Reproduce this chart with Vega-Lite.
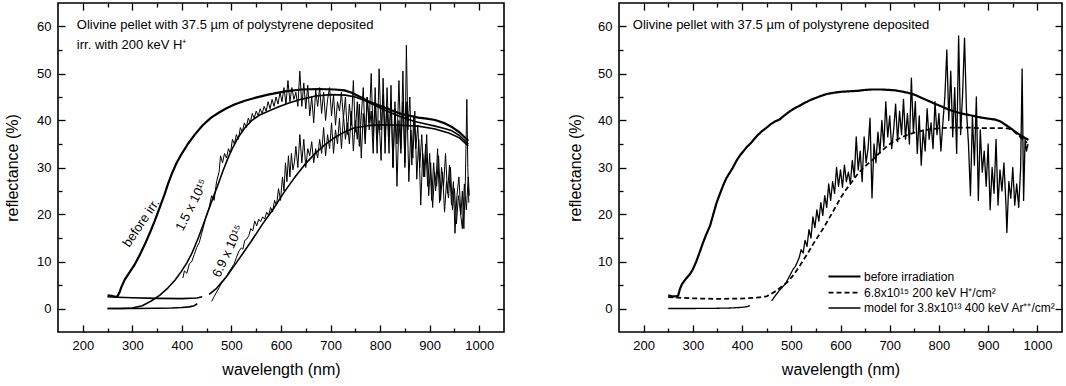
{
  "$schema": "https://vega.github.io/schema/vega-lite/v6.json",
  "background": "white",
  "padding": {"left": 3, "top": 1, "right": 0, "bottom": 0},
  "spacing": 60,
  "resolve": {"scale": {"strokeWidth": "independent", "strokeDash": "independent"}, "legend": {"strokeWidth": "independent", "strokeDash": "independent"}},
  "config": {
    "font": "Liberation Sans",
    "view": {"stroke": "black", "strokeWidth": 1.6},
    "axis": {"domain": false, "grid": false, "format": "d", "labelFont": "Liberation Sans", "labelFontSize": 13, "labelColor": "black", "titleFont": "Liberation Sans", "titleFontSize": 16, "titleFontWeight": "normal", "titleColor": "black", "tickColor": "black", "tickWidth": 1.3}
  },
  "datasets": {
    "left": [
      {"s":"b","g":"b","x":250,"y":2.8},{"s":"b","g":"b","x":258,"y":2.7},{"s":"b","g":"b","x":265,"y":2.5},{"s":"b","g":"b","x":270,"y":2.6},{"s":"b","g":"b","x":274,"y":3.4},{"s":"b","g":"b","x":278,"y":4.6},{"s":"b","g":"b","x":285,"y":6.2},{"s":"b","g":"b","x":295,"y":7.8},{"s":"b","g":"b","x":305,"y":9.4},{"s":"b","g":"b","x":315,"y":11.4},{"s":"b","g":"b","x":325,"y":13.6},{"s":"b","g":"b","x":335,"y":16.0},{"s":"b","g":"b","x":345,"y":18.6},{"s":"b","g":"b","x":355,"y":21.4},{"s":"b","g":"b","x":365,"y":24.3},{"s":"b","g":"b","x":372,"y":26.5},{"s":"b","g":"b","x":379,"y":28.5},{"s":"b","g":"b","x":389,"y":30.9},{"s":"b","g":"b","x":399,"y":32.8},{"s":"b","g":"b","x":412,"y":35.0},{"s":"b","g":"b","x":426,"y":37.0},{"s":"b","g":"b","x":442,"y":39.0},{"s":"b","g":"b","x":459,"y":40.6},{"s":"b","g":"b","x":475,"y":41.7},{"s":"b","g":"b","x":490,"y":42.6},{"s":"b","g":"b","x":506,"y":43.4},{"s":"b","g":"b","x":527,"y":44.2},{"s":"b","g":"b","x":547,"y":44.8},{"s":"b","g":"b","x":574,"y":45.5},{"s":"b","g":"b","x":608,"y":46.2},{"s":"b","g":"b","x":641,"y":46.6},{"s":"b","g":"b","x":675,"y":46.7},{"s":"b","g":"b","x":709,"y":46.6},{"s":"b","g":"b","x":728,"y":46.4},{"s":"b","g":"b","x":743,"y":45.9},{"s":"b","g":"b","x":760,"y":45.0},{"s":"b","g":"b","x":776,"y":44.1},{"s":"b","g":"b","x":793,"y":43.4},{"s":"b","g":"b","x":810,"y":42.7},{"s":"b","g":"b","x":827,"y":42.0},{"s":"b","g":"b","x":843,"y":41.4},{"s":"b","g":"b","x":860,"y":41.0},{"s":"b","g":"b","x":877,"y":40.6},{"s":"b","g":"b","x":894,"y":40.4},{"s":"b","g":"b","x":911,"y":40.1},{"s":"b","g":"b","x":928,"y":39.5},{"s":"b","g":"b","x":945,"y":38.6},{"s":"b","g":"b","x":960,"y":37.5},{"s":"b","g":"b","x":970,"y":36.5},{"s":"b","g":"b","x":978,"y":35.7},

      {"s":"m","g":"m15","x":250,"y":0},{"s":"m","g":"m15","x":280,"y":0.02},{"s":"m","g":"m15","x":300,"y":0.1},{"s":"m","g":"m15","x":320,"y":0.6},{"s":"m","g":"m15","x":338,"y":1.6},{"s":"m","g":"m15","x":355,"y":2.8},{"s":"m","g":"m15","x":372,"y":4.4},{"s":"m","g":"m15","x":386,"y":6.0},{"s":"m","g":"m15","x":399,"y":7.9},{"s":"m","g":"m15","x":410,"y":9.7},{"s":"m","g":"m15","x":419,"y":11.5},{"s":"m","g":"m15","x":426,"y":13.2},{"s":"m","g":"m15","x":433,"y":15.0},{"s":"m","g":"m15","x":443,"y":17.8},{"s":"m","g":"m15","x":453,"y":20.7},{"s":"m","g":"m15","x":463,"y":23.6},{"s":"m","g":"m15","x":473,"y":26.4},{"s":"m","g":"m15","x":483,"y":29.3},{"s":"m","g":"m15","x":493,"y":32.0},{"s":"m","g":"m15","x":503,"y":34.3},{"s":"m","g":"m15","x":513,"y":36.3},{"s":"m","g":"m15","x":526,"y":38.3},{"s":"m","g":"m15","x":540,"y":39.9},{"s":"m","g":"m15","x":556,"y":41.1},{"s":"m","g":"m15","x":573,"y":41.9},{"s":"m","g":"m15","x":593,"y":42.8},{"s":"m","g":"m15","x":613,"y":43.6},{"s":"m","g":"m15","x":640,"y":44.5},{"s":"m","g":"m15","x":670,"y":45.2},{"s":"m","g":"m15","x":700,"y":45.5},{"s":"m","g":"m15","x":730,"y":45.4},{"s":"m","g":"m15","x":750,"y":45.0},{"s":"m","g":"m15","x":770,"y":44.2},{"s":"m","g":"m15","x":790,"y":43.2},{"s":"m","g":"m15","x":810,"y":42.2},{"s":"m","g":"m15","x":830,"y":41.3},{"s":"m","g":"m15","x":850,"y":40.5},{"s":"m","g":"m15","x":870,"y":39.8},{"s":"m","g":"m15","x":890,"y":39.3},{"s":"m","g":"m15","x":911,"y":38.8},{"s":"m","g":"m15","x":930,"y":38.3},{"s":"m","g":"m15","x":945,"y":37.8},{"s":"m","g":"m15","x":960,"y":36.8},{"s":"m","g":"m15","x":978,"y":35.0},

      {"s":"m","g":"z15","x":250,"y":0},{"s":"m","g":"z15","x":300,"y":0},{"s":"m","g":"z15","x":350,"y":0.05},{"s":"m","g":"z15","x":380,"y":0.1},{"s":"m","g":"z15","x":400,"y":0.2},{"s":"m","g":"z15","x":415,"y":0.35},{"s":"m","g":"z15","x":425,"y":0.6},{"s":"m","g":"z15","x":431,"y":1.0},

      {"s":"n","g":"n15","x":402,"y":6.5},{"s":"n","g":"n15","x":405,"y":8},{"s":"n","g":"n15","x":410,"y":7.5},{"s":"n","g":"n15","x":415,"y":9.5},{"s":"n","g":"n15","x":420,"y":10},{"s":"n","g":"n15","x":425,"y":11.5},{"s":"n","g":"n15","x":430,"y":13},{"s":"n","g":"n15","x":435,"y":14},{"s":"n","g":"n15","x":440,"y":16},{"s":"n","g":"n15","x":445,"y":18},{"s":"n","g":"n15","x":450,"y":20},{"s":"n","g":"n15","x":455,"y":21.5},{"s":"n","g":"n15","x":460,"y":24},{"s":"n","g":"n15","x":465,"y":23},{"s":"n","g":"n15","x":470,"y":27},{"s":"n","g":"n15","x":475,"y":29},{"s":"n","g":"n15","x":478,"y":32.5},{"s":"n","g":"n15","x":482,"y":31},{"s":"n","g":"n15","x":486,"y":33},{"s":"n","g":"n15","x":490,"y":32},{"s":"n","g":"n15","x":494,"y":34},{"s":"n","g":"n15","x":498,"y":33},{"s":"n","g":"n15","x":502,"y":36},{"s":"n","g":"n15","x":506,"y":35},{"s":"n","g":"n15","x":510,"y":37},{"s":"n","g":"n15","x":514,"y":36},{"s":"n","g":"n15","x":518,"y":38.5},{"s":"n","g":"n15","x":522,"y":37.5},{"s":"n","g":"n15","x":526,"y":39.5},{"s":"n","g":"n15","x":530,"y":38.5},{"s":"n","g":"n15","x":534,"y":40.5},{"s":"n","g":"n15","x":538,"y":39.5},{"s":"n","g":"n15","x":542,"y":41.5},{"s":"n","g":"n15","x":546,"y":40.5},{"s":"n","g":"n15","x":550,"y":42},{"s":"n","g":"n15","x":554,"y":41},{"s":"n","g":"n15","x":558,"y":42.5},{"s":"n","g":"n15","x":562,"y":41.5},{"s":"n","g":"n15","x":566,"y":43},{"s":"n","g":"n15","x":570,"y":42},{"s":"n","g":"n15","x":574,"y":44},{"s":"n","g":"n15","x":578,"y":42.5},{"s":"n","g":"n15","x":582,"y":44.5},{"s":"n","g":"n15","x":586,"y":43},{"s":"n","g":"n15","x":590,"y":45},{"s":"n","g":"n15","x":594,"y":43.5},{"s":"n","g":"n15","x":598,"y":46},{"s":"n","g":"n15","x":602,"y":44},{"s":"n","g":"n15","x":606,"y":47},{"s":"n","g":"n15","x":610,"y":43.5},{"s":"n","g":"n15","x":614,"y":48.5},{"s":"n","g":"n15","x":618,"y":44},{"s":"n","g":"n15","x":622,"y":47},{"s":"n","g":"n15","x":626,"y":44.5},{"s":"n","g":"n15","x":630,"y":46},{"s":"n","g":"n15","x":634,"y":43},{"s":"n","g":"n15","x":638,"y":50.5},{"s":"n","g":"n15","x":642,"y":43},{"s":"n","g":"n15","x":646,"y":48},{"s":"n","g":"n15","x":650,"y":42.5},{"s":"n","g":"n15","x":654,"y":47.5},{"s":"n","g":"n15","x":658,"y":41},{"s":"n","g":"n15","x":662,"y":45},{"s":"n","g":"n15","x":666,"y":39.5},{"s":"n","g":"n15","x":670,"y":46.5},{"s":"n","g":"n15","x":674,"y":43},{"s":"n","g":"n15","x":678,"y":47},{"s":"n","g":"n15","x":682,"y":41.5},{"s":"n","g":"n15","x":686,"y":46},{"s":"n","g":"n15","x":690,"y":40},{"s":"n","g":"n15","x":694,"y":44.5},{"s":"n","g":"n15","x":698,"y":47},{"s":"n","g":"n15","x":702,"y":41},{"s":"n","g":"n15","x":706,"y":45.5},{"s":"n","g":"n15","x":710,"y":39},{"s":"n","g":"n15","x":714,"y":44},{"s":"n","g":"n15","x":718,"y":42},{"s":"n","g":"n15","x":722,"y":46},{"s":"n","g":"n15","x":726,"y":40.5},{"s":"n","g":"n15","x":730,"y":45},{"s":"n","g":"n15","x":734,"y":37},{"s":"n","g":"n15","x":738,"y":43.5},{"s":"n","g":"n15","x":742,"y":39},{"s":"n","g":"n15","x":746,"y":48.5},{"s":"n","g":"n15","x":750,"y":37.5},{"s":"n","g":"n15","x":754,"y":44},{"s":"n","g":"n15","x":758,"y":34.5},{"s":"n","g":"n15","x":762,"y":41},{"s":"n","g":"n15","x":766,"y":47},{"s":"n","g":"n15","x":770,"y":36},{"s":"n","g":"n15","x":774,"y":45},{"s":"n","g":"n15","x":778,"y":39.5},{"s":"n","g":"n15","x":782,"y":50},{"s":"n","g":"n15","x":786,"y":36.5},{"s":"n","g":"n15","x":790,"y":44},{"s":"n","g":"n15","x":794,"y":33},{"s":"n","g":"n15","x":798,"y":51},{"s":"n","g":"n15","x":802,"y":38},{"s":"n","g":"n15","x":806,"y":45.5},{"s":"n","g":"n15","x":810,"y":33},{"s":"n","g":"n15","x":814,"y":47},{"s":"n","g":"n15","x":818,"y":36.5},{"s":"n","g":"n15","x":822,"y":44},{"s":"n","g":"n15","x":826,"y":30},{"s":"n","g":"n15","x":830,"y":42.5},{"s":"n","g":"n15","x":834,"y":35},{"s":"n","g":"n15","x":838,"y":48.5},{"s":"n","g":"n15","x":842,"y":34},{"s":"n","g":"n15","x":846,"y":44},{"s":"n","g":"n15","x":850,"y":31},{"s":"n","g":"n15","x":853,"y":56},{"s":"n","g":"n15","x":856,"y":38},{"s":"n","g":"n15","x":860,"y":45},{"s":"n","g":"n15","x":864,"y":30.5},{"s":"n","g":"n15","x":868,"y":41},{"s":"n","g":"n15","x":872,"y":34},{"s":"n","g":"n15","x":876,"y":39},{"s":"n","g":"n15","x":880,"y":30},{"s":"n","g":"n15","x":884,"y":37},{"s":"n","g":"n15","x":888,"y":28},{"s":"n","g":"n15","x":892,"y":35},{"s":"n","g":"n15","x":896,"y":26},{"s":"n","g":"n15","x":900,"y":33},{"s":"n","g":"n15","x":904,"y":23},{"s":"n","g":"n15","x":908,"y":31},{"s":"n","g":"n15","x":912,"y":25},{"s":"n","g":"n15","x":916,"y":34},{"s":"n","g":"n15","x":920,"y":22.5},{"s":"n","g":"n15","x":924,"y":30},{"s":"n","g":"n15","x":928,"y":26},{"s":"n","g":"n15","x":932,"y":33},{"s":"n","g":"n15","x":936,"y":24.5},{"s":"n","g":"n15","x":940,"y":30.5},{"s":"n","g":"n15","x":944,"y":22},{"s":"n","g":"n15","x":948,"y":27},{"s":"n","g":"n15","x":951,"y":16},{"s":"n","g":"n15","x":955,"y":24},{"s":"n","g":"n15","x":959,"y":28},{"s":"n","g":"n15","x":963,"y":20},{"s":"n","g":"n15","x":966,"y":25},{"s":"n","g":"n15","x":969,"y":17},{"s":"n","g":"n15","x":972,"y":27},{"s":"n","g":"n15","x":975,"y":44.5},{"s":"n","g":"n15","x":977,"y":30},{"s":"n","g":"n15","x":979,"y":22.5},

      {"s":"m","g":"m69a","x":250,"y":2.5},{"s":"m","g":"m69a","x":270,"y":2.4},{"s":"m","g":"m69a","x":300,"y":2.3},{"s":"m","g":"m69a","x":350,"y":2.15},{"s":"m","g":"m69a","x":400,"y":2.1},{"s":"m","g":"m69a","x":430,"y":2.25},{"s":"m","g":"m69a","x":441,"y":2.5},
      {"s":"m","g":"m69b","x":455,"y":3.0},{"s":"m","g":"m69b","x":470,"y":4.3},{"s":"m","g":"m69b","x":493,"y":7.2},{"s":"m","g":"m69b","x":515,"y":10.5},{"s":"m","g":"m69b","x":540,"y":14.3},{"s":"m","g":"m69b","x":563,"y":18.0},{"s":"m","g":"m69b","x":586,"y":21.4},{"s":"m","g":"m69b","x":606,"y":24.7},{"s":"m","g":"m69b","x":627,"y":27.8},{"s":"m","g":"m69b","x":647,"y":30.5},{"s":"m","g":"m69b","x":667,"y":32.8},{"s":"m","g":"m69b","x":687,"y":34.7},{"s":"m","g":"m69b","x":707,"y":36.3},{"s":"m","g":"m69b","x":727,"y":37.5},{"s":"m","g":"m69b","x":747,"y":38.4},{"s":"m","g":"m69b","x":775,"y":38.9},{"s":"m","g":"m69b","x":801,"y":39.1},{"s":"m","g":"m69b","x":840,"y":39.0},{"s":"m","g":"m69b","x":877,"y":38.8},{"s":"m","g":"m69b","x":911,"y":38.2},{"s":"m","g":"m69b","x":940,"y":37.3},{"s":"m","g":"m69b","x":960,"y":36.3},{"s":"m","g":"m69b","x":978,"y":34.6},

      {"s":"n","g":"n69","x":460,"y":1.5},{"s":"n","g":"n69","x":465,"y":2.5},{"s":"n","g":"n69","x":470,"y":3.5},{"s":"n","g":"n69","x":475,"y":4.4},{"s":"n","g":"n69","x":480,"y":5.4},{"s":"n","g":"n69","x":485,"y":6},{"s":"n","g":"n69","x":490,"y":6.8},{"s":"n","g":"n69","x":495,"y":7.8},{"s":"n","g":"n69","x":500,"y":8.6},{"s":"n","g":"n69","x":505,"y":9.4},{"s":"n","g":"n69","x":510,"y":10.8},{"s":"n","g":"n69","x":515,"y":12.2},{"s":"n","g":"n69","x":520,"y":12.9},{"s":"n","g":"n69","x":523,"y":12.6},{"s":"n","g":"n69","x":527,"y":14.5},{"s":"n","g":"n69","x":531,"y":14.8},{"s":"n","g":"n69","x":535,"y":15.5},{"s":"n","g":"n69","x":539,"y":17},{"s":"n","g":"n69","x":543,"y":16.5},{"s":"n","g":"n69","x":547,"y":18.6},{"s":"n","g":"n69","x":551,"y":17.6},{"s":"n","g":"n69","x":555,"y":19},{"s":"n","g":"n69","x":559,"y":18.5},{"s":"n","g":"n69","x":563,"y":19.5},{"s":"n","g":"n69","x":567,"y":19},{"s":"n","g":"n69","x":571,"y":20.5},{"s":"n","g":"n69","x":575,"y":19.8},{"s":"n","g":"n69","x":579,"y":21.5},{"s":"n","g":"n69","x":583,"y":20.5},{"s":"n","g":"n69","x":587,"y":23},{"s":"n","g":"n69","x":591,"y":22},{"s":"n","g":"n69","x":595,"y":25.5},{"s":"n","g":"n69","x":599,"y":23},{"s":"n","g":"n69","x":603,"y":28},{"s":"n","g":"n69","x":606,"y":25},{"s":"n","g":"n69","x":609,"y":31},{"s":"n","g":"n69","x":612,"y":27},{"s":"n","g":"n69","x":615,"y":32.5},{"s":"n","g":"n69","x":618,"y":28},{"s":"n","g":"n69","x":621,"y":33},{"s":"n","g":"n69","x":624,"y":29.5},{"s":"n","g":"n69","x":627,"y":31},{"s":"n","g":"n69","x":630,"y":34.5},{"s":"n","g":"n69","x":634,"y":30},{"s":"n","g":"n69","x":638,"y":37},{"s":"n","g":"n69","x":642,"y":31},{"s":"n","g":"n69","x":646,"y":36},{"s":"n","g":"n69","x":650,"y":30},{"s":"n","g":"n69","x":654,"y":34},{"s":"n","g":"n69","x":658,"y":32.5},{"s":"n","g":"n69","x":662,"y":35.5},{"s":"n","g":"n69","x":666,"y":31},{"s":"n","g":"n69","x":670,"y":34},{"s":"n","g":"n69","x":674,"y":32},{"s":"n","g":"n69","x":678,"y":36},{"s":"n","g":"n69","x":682,"y":33},{"s":"n","g":"n69","x":686,"y":38.5},{"s":"n","g":"n69","x":690,"y":32.5},{"s":"n","g":"n69","x":694,"y":37},{"s":"n","g":"n69","x":698,"y":34},{"s":"n","g":"n69","x":702,"y":39.5},{"s":"n","g":"n69","x":706,"y":33},{"s":"n","g":"n69","x":710,"y":38},{"s":"n","g":"n69","x":714,"y":35},{"s":"n","g":"n69","x":718,"y":40.5},{"s":"n","g":"n69","x":722,"y":34},{"s":"n","g":"n69","x":726,"y":41},{"s":"n","g":"n69","x":730,"y":36},{"s":"n","g":"n69","x":734,"y":39.5},{"s":"n","g":"n69","x":738,"y":35},{"s":"n","g":"n69","x":742,"y":42},{"s":"n","g":"n69","x":746,"y":33.5},{"s":"n","g":"n69","x":750,"y":40},{"s":"n","g":"n69","x":754,"y":36},{"s":"n","g":"n69","x":758,"y":43.5},{"s":"n","g":"n69","x":762,"y":32},{"s":"n","g":"n69","x":766,"y":41.5},{"s":"n","g":"n69","x":770,"y":35},{"s":"n","g":"n69","x":774,"y":45},{"s":"n","g":"n69","x":778,"y":38},{"s":"n","g":"n69","x":782,"y":42},{"s":"n","g":"n69","x":786,"y":33},{"s":"n","g":"n69","x":790,"y":47},{"s":"n","g":"n69","x":794,"y":36},{"s":"n","g":"n69","x":798,"y":40},{"s":"n","g":"n69","x":802,"y":31.5},{"s":"n","g":"n69","x":806,"y":49},{"s":"n","g":"n69","x":810,"y":36.5},{"s":"n","g":"n69","x":814,"y":43},{"s":"n","g":"n69","x":818,"y":33},{"s":"n","g":"n69","x":822,"y":47.5},{"s":"n","g":"n69","x":826,"y":30},{"s":"n","g":"n69","x":830,"y":44},{"s":"n","g":"n69","x":834,"y":26},{"s":"n","g":"n69","x":838,"y":40},{"s":"n","g":"n69","x":842,"y":33},{"s":"n","g":"n69","x":846,"y":50.5},{"s":"n","g":"n69","x":850,"y":30},{"s":"n","g":"n69","x":854,"y":44},{"s":"n","g":"n69","x":858,"y":27},{"s":"n","g":"n69","x":862,"y":38},{"s":"n","g":"n69","x":866,"y":32},{"s":"n","g":"n69","x":870,"y":42},{"s":"n","g":"n69","x":874,"y":27.5},{"s":"n","g":"n69","x":878,"y":36},{"s":"n","g":"n69","x":882,"y":22},{"s":"n","g":"n69","x":886,"y":33},{"s":"n","g":"n69","x":890,"y":28},{"s":"n","g":"n69","x":894,"y":37},{"s":"n","g":"n69","x":898,"y":24},{"s":"n","g":"n69","x":902,"y":31},{"s":"n","g":"n69","x":906,"y":21.5},{"s":"n","g":"n69","x":910,"y":29},{"s":"n","g":"n69","x":914,"y":26},{"s":"n","g":"n69","x":918,"y":32.5},{"s":"n","g":"n69","x":922,"y":23},{"s":"n","g":"n69","x":926,"y":29},{"s":"n","g":"n69","x":930,"y":20.5},{"s":"n","g":"n69","x":934,"y":27},{"s":"n","g":"n69","x":938,"y":23.5},{"s":"n","g":"n69","x":942,"y":30},{"s":"n","g":"n69","x":946,"y":21},{"s":"n","g":"n69","x":950,"y":25.5},{"s":"n","g":"n69","x":954,"y":18},{"s":"n","g":"n69","x":958,"y":24},{"s":"n","g":"n69","x":962,"y":20.5},{"s":"n","g":"n69","x":966,"y":17},{"s":"n","g":"n69","x":970,"y":26.5},{"s":"n","g":"n69","x":974,"y":21},{"s":"n","g":"n69","x":978,"y":28},{"s":"n","g":"n69","x":980,"y":24}
    ],
    "right": [
      {"s":"b","g":"b","x":250,"y":2.8},{"s":"b","g":"b","x":258,"y":2.6},{"s":"b","g":"b","x":266,"y":2.6},{"s":"b","g":"b","x":270,"y":2.7},{"s":"b","g":"b","x":274,"y":4.2},{"s":"b","g":"b","x":278,"y":5.2},{"s":"b","g":"b","x":285,"y":6.2},{"s":"b","g":"b","x":294,"y":7.3},{"s":"b","g":"b","x":300,"y":8.3},{"s":"b","g":"b","x":307,"y":10},{"s":"b","g":"b","x":315,"y":12.3},{"s":"b","g":"b","x":320,"y":13.8},{"s":"b","g":"b","x":327,"y":15.7},{"s":"b","g":"b","x":335,"y":17.6},{"s":"b","g":"b","x":342,"y":20.2},{"s":"b","g":"b","x":348,"y":22.4},{"s":"b","g":"b","x":355,"y":24.4},{"s":"b","g":"b","x":362,"y":26.3},{"s":"b","g":"b","x":368,"y":27.7},{"s":"b","g":"b","x":375,"y":28.9},{"s":"b","g":"b","x":381,"y":29.9},{"s":"b","g":"b","x":389,"y":31.5},{"s":"b","g":"b","x":396,"y":32.6},{"s":"b","g":"b","x":403,"y":33.5},{"s":"b","g":"b","x":410,"y":34.4},{"s":"b","g":"b","x":418,"y":35.2},{"s":"b","g":"b","x":425,"y":36.1},{"s":"b","g":"b","x":432,"y":36.9},{"s":"b","g":"b","x":440,"y":37.7},{"s":"b","g":"b","x":449,"y":38.4},{"s":"b","g":"b","x":458,"y":39.2},{"s":"b","g":"b","x":467,"y":39.8},{"s":"b","g":"b","x":476,"y":40.2},{"s":"b","g":"b","x":485,"y":41.0},{"s":"b","g":"b","x":495,"y":41.8},{"s":"b","g":"b","x":505,"y":42.5},{"s":"b","g":"b","x":516,"y":43.1},{"s":"b","g":"b","x":528,"y":43.8},{"s":"b","g":"b","x":540,"y":44.4},{"s":"b","g":"b","x":552,"y":44.9},{"s":"b","g":"b","x":565,"y":45.4},{"s":"b","g":"b","x":575,"y":45.7},{"s":"b","g":"b","x":586,"y":45.9},{"s":"b","g":"b","x":600,"y":46.1},{"s":"b","g":"b","x":615,"y":46.2},{"s":"b","g":"b","x":634,"y":46.3},{"s":"b","g":"b","x":650,"y":46.5},{"s":"b","g":"b","x":665,"y":46.6},{"s":"b","g":"b","x":683,"y":46.6},{"s":"b","g":"b","x":700,"y":46.5},{"s":"b","g":"b","x":712,"y":46.4},{"s":"b","g":"b","x":723,"y":46.2},{"s":"b","g":"b","x":737,"y":45.9},{"s":"b","g":"b","x":750,"y":45.5},{"s":"b","g":"b","x":765,"y":44.8},{"s":"b","g":"b","x":778,"y":44.2},{"s":"b","g":"b","x":791,"y":43.6},{"s":"b","g":"b","x":805,"y":43.0},{"s":"b","g":"b","x":818,"y":42.4},{"s":"b","g":"b","x":832,"y":41.9},{"s":"b","g":"b","x":845,"y":41.5},{"s":"b","g":"b","x":860,"y":41.2},{"s":"b","g":"b","x":873,"y":40.9},{"s":"b","g":"b","x":887,"y":40.6},{"s":"b","g":"b","x":900,"y":40.4},{"s":"b","g":"b","x":914,"y":40.2},{"s":"b","g":"b","x":925,"y":39.8},{"s":"b","g":"b","x":935,"y":39.1},{"s":"b","g":"b","x":945,"y":38.4},{"s":"b","g":"b","x":955,"y":37.6},{"s":"b","g":"b","x":962,"y":37.1},{"s":"b","g":"b","x":970,"y":36.6},{"s":"b","g":"b","x":976,"y":36.2},{"s":"b","g":"b","x":982,"y":35.9},

      {"s":"h","g":"h","x":250,"y":2.4},{"s":"h","g":"h","x":270,"y":2.3},{"s":"h","g":"h","x":300,"y":2.15},{"s":"h","g":"h","x":350,"y":2.05},{"s":"h","g":"h","x":396,"y":2.1},{"s":"h","g":"h","x":430,"y":2.3},{"s":"h","g":"h","x":450,"y":2.6},{"s":"h","g":"h","x":457,"y":3.0},{"s":"h","g":"h","x":470,"y":3.8},{"s":"h","g":"h","x":482,"y":4.8},{"s":"h","g":"h","x":492,"y":5.6},{"s":"h","g":"h","x":505,"y":7.2},{"s":"h","g":"h","x":518,"y":9.2},{"s":"h","g":"h","x":532,"y":11.5},{"s":"h","g":"h","x":545,"y":13.8},{"s":"h","g":"h","x":556,"y":15.6},{"s":"h","g":"h","x":566,"y":17.2},{"s":"h","g":"h","x":578,"y":19.4},{"s":"h","g":"h","x":590,"y":21.6},{"s":"h","g":"h","x":600,"y":23.5},{"s":"h","g":"h","x":612,"y":25.4},{"s":"h","g":"h","x":623,"y":26.9},{"s":"h","g":"h","x":634,"y":28.5},{"s":"h","g":"h","x":646,"y":29.9},{"s":"h","g":"h","x":658,"y":31.0},{"s":"h","g":"h","x":669,"y":32.0},{"s":"h","g":"h","x":680,"y":33.2},{"s":"h","g":"h","x":692,"y":34.3},{"s":"h","g":"h","x":703,"y":35.2},{"s":"h","g":"h","x":716,"y":36.0},{"s":"h","g":"h","x":728,"y":36.6},{"s":"h","g":"h","x":740,"y":37.1},{"s":"h","g":"h","x":760,"y":37.7},{"s":"h","g":"h","x":780,"y":38.1},{"s":"h","g":"h","x":805,"y":38.4},{"s":"h","g":"h","x":830,"y":38.5},{"s":"h","g":"h","x":855,"y":38.5},{"s":"h","g":"h","x":880,"y":38.4},{"s":"h","g":"h","x":905,"y":38.4},{"s":"h","g":"h","x":925,"y":38.4},{"s":"h","g":"h","x":940,"y":38.3},{"s":"h","g":"h","x":950,"y":37.9},{"s":"h","g":"h","x":960,"y":37.0},{"s":"h","g":"h","x":968,"y":36.2},{"s":"h","g":"h","x":979,"y":35.3},

      {"s":"m","g":"ma","x":250,"y":0},{"s":"m","g":"ma","x":300,"y":0},{"s":"m","g":"ma","x":350,"y":0.05},{"s":"m","g":"ma","x":380,"y":0.12},{"s":"m","g":"ma","x":400,"y":0.25},{"s":"m","g":"ma","x":410,"y":0.4},{"s":"m","g":"ma","x":416,"y":0.6},

      {"s":"m","g":"mb","x":460,"y":1.6},{"s":"m","g":"mb","x":464,"y":2.2},{"s":"m","g":"mb","x":468,"y":2.8},{"s":"m","g":"mb","x":472,"y":3.3},{"s":"m","g":"mb","x":476,"y":3.9},{"s":"m","g":"mb","x":480,"y":4.3},{"s":"m","g":"mb","x":484,"y":4.8},{"s":"m","g":"mb","x":488,"y":5.2},{"s":"m","g":"mb","x":492,"y":6.0},{"s":"m","g":"mb","x":496,"y":6.8},{"s":"m","g":"mb","x":500,"y":7.6},{"s":"m","g":"mb","x":504,"y":8.4},{"s":"m","g":"mb","x":508,"y":8.9},{"s":"m","g":"mb","x":512,"y":9.8},{"s":"m","g":"mb","x":516,"y":10.8},{"s":"m","g":"mb","x":520,"y":12.5},{"s":"m","g":"mb","x":524,"y":11.8},{"s":"m","g":"mb","x":528,"y":14.5},{"s":"m","g":"mb","x":532,"y":13.2},{"s":"m","g":"mb","x":536,"y":16.8},{"s":"m","g":"mb","x":540,"y":15.0},{"s":"m","g":"mb","x":544,"y":19.5},{"s":"m","g":"mb","x":548,"y":17.2},{"s":"m","g":"mb","x":552,"y":21.0},{"s":"m","g":"mb","x":556,"y":18.6},{"s":"m","g":"mb","x":560,"y":22.5},{"s":"m","g":"mb","x":564,"y":19.8},{"s":"m","g":"mb","x":568,"y":24.0},{"s":"m","g":"mb","x":572,"y":21.5},{"s":"m","g":"mb","x":576,"y":26.5},{"s":"m","g":"mb","x":580,"y":23.0},{"s":"m","g":"mb","x":584,"y":27.0},{"s":"m","g":"mb","x":588,"y":24.5},{"s":"m","g":"mb","x":592,"y":30.0},{"s":"m","g":"mb","x":596,"y":26.0},{"s":"m","g":"mb","x":600,"y":29.5},{"s":"m","g":"mb","x":604,"y":25.8},{"s":"m","g":"mb","x":608,"y":30.5},{"s":"m","g":"mb","x":612,"y":27.0},{"s":"m","g":"mb","x":616,"y":29.0},{"s":"m","g":"mb","x":620,"y":26.5},{"s":"m","g":"mb","x":624,"y":31.5},{"s":"m","g":"mb","x":628,"y":28.0},{"s":"m","g":"mb","x":632,"y":36.5},{"s":"m","g":"mb","x":636,"y":29.5},{"s":"m","g":"mb","x":640,"y":33.5},{"s":"m","g":"mb","x":644,"y":27.0},{"s":"m","g":"mb","x":648,"y":36.5},{"s":"m","g":"mb","x":652,"y":31.0},{"s":"m","g":"mb","x":656,"y":34.0},{"s":"m","g":"mb","x":660,"y":40.5},{"s":"m","g":"mb","x":664,"y":23.5},{"s":"m","g":"mb","x":668,"y":35.0},{"s":"m","g":"mb","x":672,"y":31.0},{"s":"m","g":"mb","x":676,"y":37.5},{"s":"m","g":"mb","x":680,"y":33.0},{"s":"m","g":"mb","x":684,"y":40.0},{"s":"m","g":"mb","x":688,"y":34.5},{"s":"m","g":"mb","x":692,"y":44.0},{"s":"m","g":"mb","x":696,"y":36.5},{"s":"m","g":"mb","x":700,"y":41.0},{"s":"m","g":"mb","x":704,"y":34.0},{"s":"m","g":"mb","x":708,"y":38.0},{"s":"m","g":"mb","x":712,"y":43.5},{"s":"m","g":"mb","x":716,"y":35.5},{"s":"m","g":"mb","x":720,"y":42.0},{"s":"m","g":"mb","x":724,"y":37.0},{"s":"m","g":"mb","x":728,"y":44.5},{"s":"m","g":"mb","x":732,"y":36.0},{"s":"m","g":"mb","x":736,"y":41.5},{"s":"m","g":"mb","x":740,"y":35.0},{"s":"m","g":"mb","x":744,"y":49.0},{"s":"m","g":"mb","x":748,"y":37.5},{"s":"m","g":"mb","x":752,"y":44.0},{"s":"m","g":"mb","x":756,"y":33.0},{"s":"m","g":"mb","x":760,"y":41.0},{"s":"m","g":"mb","x":764,"y":30.5},{"s":"m","g":"mb","x":768,"y":38.0},{"s":"m","g":"mb","x":772,"y":33.5},{"s":"m","g":"mb","x":776,"y":42.5},{"s":"m","g":"mb","x":780,"y":36.0},{"s":"m","g":"mb","x":784,"y":39.5},{"s":"m","g":"mb","x":788,"y":34.0},{"s":"m","g":"mb","x":792,"y":44.0},{"s":"m","g":"mb","x":796,"y":37.0},{"s":"m","g":"mb","x":800,"y":41.5},{"s":"m","g":"mb","x":804,"y":33.5},{"s":"m","g":"mb","x":808,"y":39.5},{"s":"m","g":"mb","x":812,"y":45.0},{"s":"m","g":"mb","x":816,"y":55.0},{"s":"m","g":"mb","x":820,"y":40.0},{"s":"m","g":"mb","x":824,"y":50.5},{"s":"m","g":"mb","x":828,"y":36.5},{"s":"m","g":"mb","x":832,"y":47.0},{"s":"m","g":"mb","x":836,"y":33.0},{"s":"m","g":"mb","x":840,"y":58.0},{"s":"m","g":"mb","x":844,"y":37.0},{"s":"m","g":"mb","x":848,"y":45.5},{"s":"m","g":"mb","x":852,"y":57.5},{"s":"m","g":"mb","x":856,"y":42.0},{"s":"m","g":"mb","x":860,"y":35.0},{"s":"m","g":"mb","x":864,"y":24.0},{"s":"m","g":"mb","x":868,"y":41.0},{"s":"m","g":"mb","x":872,"y":30.5},{"s":"m","g":"mb","x":876,"y":45.0},{"s":"m","g":"mb","x":880,"y":23.0},{"s":"m","g":"mb","x":884,"y":38.0},{"s":"m","g":"mb","x":888,"y":29.0},{"s":"m","g":"mb","x":892,"y":33.5},{"s":"m","g":"mb","x":896,"y":26.0},{"s":"m","g":"mb","x":900,"y":35.0},{"s":"m","g":"mb","x":904,"y":21.0},{"s":"m","g":"mb","x":908,"y":30.0},{"s":"m","g":"mb","x":912,"y":24.5},{"s":"m","g":"mb","x":916,"y":36.0},{"s":"m","g":"mb","x":920,"y":22.0},{"s":"m","g":"mb","x":924,"y":29.5},{"s":"m","g":"mb","x":928,"y":25.0},{"s":"m","g":"mb","x":932,"y":31.0},{"s":"m","g":"mb","x":936,"y":22.5},{"s":"m","g":"mb","x":938,"y":16.2},{"s":"m","g":"mb","x":942,"y":27.0},{"s":"m","g":"mb","x":946,"y":23.5},{"s":"m","g":"mb","x":950,"y":30.0},{"s":"m","g":"mb","x":954,"y":22.0},{"s":"m","g":"mb","x":958,"y":26.5},{"s":"m","g":"mb","x":962,"y":21.5},{"s":"m","g":"mb","x":966,"y":30.0},{"s":"m","g":"mb","x":969,"y":51.0},{"s":"m","g":"mb","x":972,"y":23.0},{"s":"m","g":"mb","x":975,"y":36.0},{"s":"m","g":"mb","x":978,"y":33.5},{"s":"m","g":"mb","x":981,"y":35.0}
    ]
  },
  "hconcat": [
    {
      "width": 446, "height": 329,
      "data": {"name": "left"},
      "layer": [
        {
          "transform": [{"filter": "datum.s === 'b'"}],
          "mark": {"type": "line", "color": "black", "strokeJoin": "round"},
          "encoding": {
            "x": {"field": "x", "type": "quantitative", "scale": {"domain": [150, 1050], "nice": false, "zero": false},
              "axis": {"orient": "bottom", "values": [200,250,300,350,400,450,500,550,600,650,700,750,800,850,900,950,1000], "tickSize": {"condition": {"test": "datum.value % 100 === 0", "value": -7}, "value": -4}, "labelExpr": "datum.value % 100 === 0 ? datum.label : ''", "labelPadding": 14, "title": "wavelength (nm)", "titlePadding": 9}},
            "y": {"field": "y", "type": "quantitative", "scale": {"domain": [-5, 65], "nice": false, "zero": false},
              "axis": {"orient": "left", "values": [0,5,10,15,20,25,30,35,40,45,50,55,60], "tickSize": {"condition": {"test": "datum.value % 10 === 0", "value": -7}, "value": -4}, "labelExpr": "datum.value % 10 === 0 ? datum.label : ''", "labelPadding": 14, "title": "reflectance (%)", "titlePadding": 16}},
            "strokeWidth": {"field": "s", "type": "nominal", "scale": {"domain": ["b","m","n"], "range": [2.2, 1, 1.3]}, "legend": null},
            "detail": {"field": "g"}
          }
        },
        {
          "transform": [{"filter": "datum.s !== 'b'"}],
          "mark": {"type": "line", "color": "black", "strokeJoin": "round"},
          "encoding": {
            "x": {"field": "x", "type": "quantitative", "scale": {"domain": [150, 1050], "nice": false, "zero": false},
              "axis": {"orient": "top", "values": [200,250,300,350,400,450,500,550,600,650,700,750,800,850,900,950,1000], "tickSize": {"condition": {"test": "datum.value % 100 === 0", "value": -7}, "value": -4}, "labels": false, "title": null}},
            "y": {"field": "y", "type": "quantitative", "scale": {"domain": [-5, 65], "nice": false, "zero": false},
              "axis": {"orient": "right", "values": [0,5,10,15,20,25,30,35,40,45,50,55,60], "tickSize": {"condition": {"test": "datum.value % 10 === 0", "value": -7}, "value": -4}, "labels": false, "title": null}},
            "strokeWidth": {"field": "s", "type": "nominal", "scale": {"domain": ["b","m","n"], "range": [2.2, 1, 1.3]}, "legend": null},
            "detail": {"field": "g"}
          }
        },
        {
          "data": {"values": [{}]},
          "mark": {"type": "text", "align": "left", "baseline": "alphabetic", "fontSize": 13, "color": "black"},
          "encoding": {"x": {"datum": 188, "type": "quantitative", "axis": null}, "y": {"datum": 59.4, "type": "quantitative", "axis": null}, "text": {"value": "Olivine pellet with 37.5 µm of polystyrene deposited"}}
        },
        {
          "data": {"values": [{}]},
          "mark": {"type": "text", "align": "left", "baseline": "alphabetic", "fontSize": 13, "color": "black"},
          "encoding": {"x": {"datum": 188, "type": "quantitative", "axis": null}, "y": {"datum": 55.2, "type": "quantitative", "axis": null}, "text": {"value": "irr. with 200 keV H⁺"}}
        },
        {
          "data": {"values": [{}]},
          "mark": {"type": "text", "align": "center", "baseline": "middle", "fontSize": 13, "angle": -56, "color": "black"},
          "encoding": {"x": {"datum": 318, "type": "quantitative", "axis": null}, "y": {"datum": 18.2, "type": "quantitative", "axis": null}, "text": {"value": "before irr."}}
        },
        {
          "data": {"values": [{}]},
          "mark": {"type": "text", "align": "center", "baseline": "middle", "fontSize": 13, "angle": -63, "color": "black"},
          "encoding": {"x": {"datum": 420, "type": "quantitative", "axis": null}, "y": {"datum": 22.0, "type": "quantitative", "axis": null}, "text": {"value": "1.5 x 10¹⁵"}}
        },
        {
          "data": {"values": [{}]},
          "mark": {"type": "text", "align": "center", "baseline": "middle", "fontSize": 13, "angle": -65, "color": "black"},
          "encoding": {"x": {"datum": 493, "type": "quantitative", "axis": null}, "y": {"datum": 12.2, "type": "quantitative", "axis": null}, "text": {"value": "6.9 x 10¹⁵"}}
        }
      ],
      "resolve": {"axis": {"x": "independent", "y": "independent"}}
    },
    {
      "width": 443, "height": 329,
      "data": {"name": "right"},
      "layer": [
        {
          "transform": [{"filter": "datum.s === 'b'"}],
          "mark": {"type": "line", "color": "black", "strokeJoin": "round"},
          "encoding": {
            "x": {"field": "x", "type": "quantitative", "scale": {"domain": [150, 1050], "nice": false, "zero": false},
              "axis": {"orient": "bottom", "values": [200,250,300,350,400,450,500,550,600,650,700,750,800,850,900,950,1000], "tickSize": {"condition": {"test": "datum.value % 100 === 0", "value": -7}, "value": -4}, "labelExpr": "datum.value % 100 === 0 ? datum.label : ''", "labelPadding": 14, "title": "wavelength (nm)", "titlePadding": 9}},
            "y": {"field": "y", "type": "quantitative", "scale": {"domain": [-5, 65], "nice": false, "zero": false},
              "axis": {"orient": "left", "values": [0,5,10,15,20,25,30,35,40,45,50,55,60], "tickSize": {"condition": {"test": "datum.value % 10 === 0", "value": -7}, "value": -4}, "labelExpr": "datum.value % 10 === 0 ? datum.label : ''", "labelPadding": 14, "title": "reflectance (%)", "titlePadding": 14}},
            "strokeWidth": {"field": "s", "type": "nominal", "scale": {"domain": ["b","h","m"], "range": [2.2, 1.3, 0.8]},
              "legend": {"orient": "none", "legendX": 216, "legendY": 264, "title": null, "symbolType": "M-2,0H2", "symbolSize": 256, "symbolStrokeColor": "black", "labelOffset": 10, "labelFontSize": 12, "labelColor": "black", "labelFont": "Liberation Sans", "labelLimit": 0, "padding": 0, "rowPadding": 0.5, "labelExpr": "datum.label === 'b' ? 'before irradiation' : datum.label === 'h' ? '6.8x10¹⁵ 200 keV H⁺/cm²' : 'model for 3.8x10¹³ 400 keV Ar⁺⁺/cm²'"}},
            "strokeDash": {"field": "s", "type": "nominal", "scale": {"domain": ["b","h","m"], "range": [[1,0],[5,3],[1,0]]},
              "legend": {"orient": "none", "legendX": 216, "legendY": 264, "title": null, "symbolType": "M-2,0H2", "symbolSize": 256, "symbolStrokeColor": "black", "labelOffset": 10, "labelFontSize": 12, "labelColor": "black", "labelFont": "Liberation Sans", "labelLimit": 0, "padding": 0, "rowPadding": 0.5, "labelExpr": "datum.label === 'b' ? 'before irradiation' : datum.label === 'h' ? '6.8x10¹⁵ 200 keV H⁺/cm²' : 'model for 3.8x10¹³ 400 keV Ar⁺⁺/cm²'"}},
            "detail": {"field": "g"}
          }
        },
        {
          "transform": [{"filter": "datum.s !== 'b'"}],
          "mark": {"type": "line", "color": "black", "strokeJoin": "round"},
          "encoding": {
            "x": {"field": "x", "type": "quantitative", "scale": {"domain": [150, 1050], "nice": false, "zero": false},
              "axis": {"orient": "top", "values": [200,250,300,350,400,450,500,550,600,650,700,750,800,850,900,950,1000], "tickSize": {"condition": {"test": "datum.value % 100 === 0", "value": -7}, "value": -4}, "labels": false, "title": null}},
            "y": {"field": "y", "type": "quantitative", "scale": {"domain": [-5, 65], "nice": false, "zero": false},
              "axis": {"orient": "right", "values": [0,5,10,15,20,25,30,35,40,45,50,55,60], "tickSize": {"condition": {"test": "datum.value % 10 === 0", "value": -7}, "value": -4}, "labels": false, "title": null}},
            "strokeWidth": {"field": "s", "type": "nominal", "scale": {"domain": ["b","h","m"], "range": [2.2, 1.3, 0.8]}},
            "strokeDash": {"field": "s", "type": "nominal", "scale": {"domain": ["b","h","m"], "range": [[1,0],[5,3],[1,0]]}},
            "detail": {"field": "g"}
          }
        },
        {
          "data": {"values": [{}]},
          "mark": {"type": "text", "align": "left", "baseline": "alphabetic", "fontSize": 13, "color": "black"},
          "encoding": {"x": {"datum": 178, "type": "quantitative", "axis": null}, "y": {"datum": 59.4, "type": "quantitative", "axis": null}, "text": {"value": "Olivine pellet with 37.5 µm of polystyrene deposited"}}
        }
      ],
      "resolve": {"axis": {"x": "independent", "y": "independent"}}
    }
  ]
}
